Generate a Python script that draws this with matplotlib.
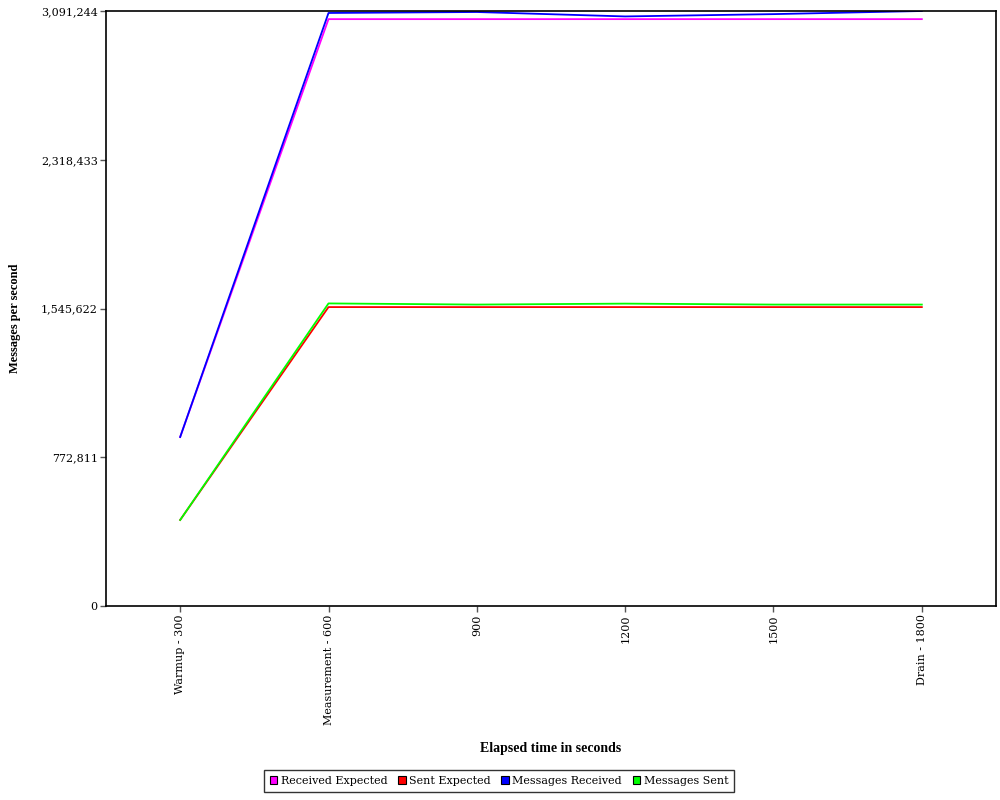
import matplotlib
matplotlib.use("Agg")
import matplotlib.pyplot as plt
from matplotlib.patches import Patch
from matplotlib.ticker import FixedLocator, FuncFormatter

categories = ["Warmup - 300", "Measurement - 600", "900", "1200", "1500", "Drain - 1800"]
received_expected = [878000, 3049000, 3049000, 3049000, 3049000, 3049000]
sent_expected = [447000, 1553000, 1553000, 1553000, 1553000, 1553000]
messages_received = [878000, 3081000, 3086000, 3063000, 3075000, 3091244]
messages_sent = [447000, 1572000, 1566000, 1571000, 1566000, 1566000]
y_ticks = [0, 772811, 1545622, 2318433, 3091244]

series = [
    ("Received Expected", received_expected, "#ff00ff"),
    ("Sent Expected", sent_expected, "#ff0000"),
    ("Messages Received", messages_received, "#0000ff"),
    ("Messages Sent", messages_sent, "#00ff00"),
]

fig = plt.figure(figsize=(10, 8), dpi=100)
ax = fig.add_axes([0.106, 0.2425, 0.89, 0.74375])

x = list(range(len(categories)))
for name, vals, col in series:
    ax.plot(x, vals, color=col, lw=1.3, solid_joinstyle="round")

ax.set_xlim(-0.5, len(categories) - 0.5)
ax.set_ylim(0, y_ticks[-1])
ax.yaxis.set_major_locator(FixedLocator(y_ticks))
ax.yaxis.set_major_formatter(FuncFormatter(lambda v, p: f"{int(round(v)):,}"))
ax.set_xticks(x)
ax.set_xticklabels(categories, rotation=90, fontfamily="DejaVu Serif", fontsize=8)
for lab in ax.get_yticklabels():
    lab.set_fontfamily("DejaVu Serif")
    lab.set_fontsize(8)
ax.tick_params(axis="both", direction="out", length=4, width=1, color="#555555", pad=2)
for s in ax.spines.values():
    s.set_linewidth(1.2)
    s.set_color("black")

ax.set_xlabel("Elapsed time in seconds", fontfamily="Liberation Serif", fontweight="bold",
              fontsize=10)
ax.xaxis.set_label_coords(0.5, -0.228)
ax.set_ylabel("Messages per second", fontfamily="Liberation Serif", fontweight="bold",
              fontsize=9)
ax.yaxis.set_label_coords(-0.0955, 0.484)

handles = [Patch(facecolor=c, edgecolor="black", linewidth=0.8, label=n) for n, v, c in series]
leg = fig.legend(handles=handles, loc="center", bbox_to_anchor=(0.499, 0.0235), ncol=4,
                 frameon=True, fancybox=False, edgecolor="black",
                 prop={"family": "DejaVu Serif", "size": 8},
                 handlelength=0.7, handleheight=0.7, handletextpad=0.3, columnspacing=0.95,
                 borderpad=0.55, borderaxespad=0)
leg.get_frame().set_linewidth(1.0)

fig.savefig("out.png", dpi=100, facecolor="white")
